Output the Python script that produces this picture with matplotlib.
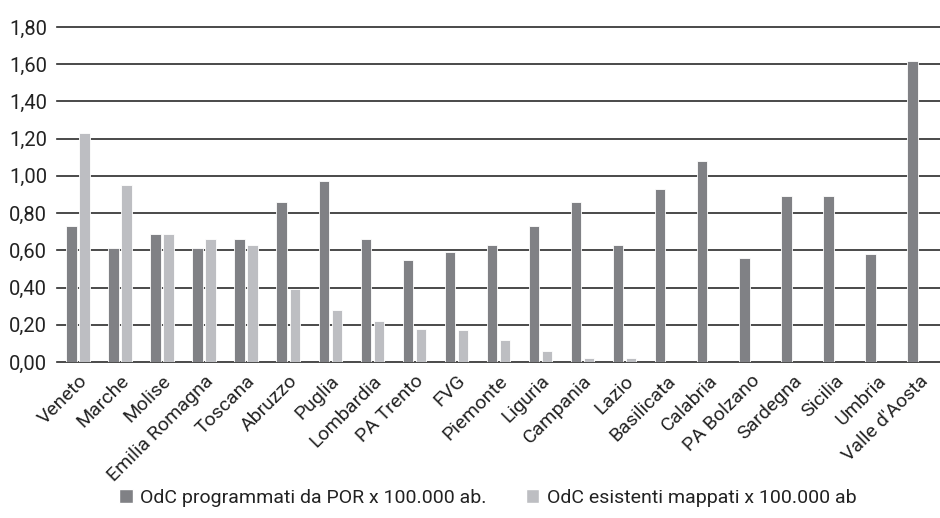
import numpy as np
import matplotlib
matplotlib.use('Agg')
import matplotlib.pyplot as plt
from matplotlib.ticker import FuncFormatter
import matplotlib.patches as mpatches

plt.rcParams['font.family'] = ['Liberation Sans Narrow', 'Roboto', 'DejaVu Sans']

regioni = ['Veneto', 'Marche', 'Molise', 'Emilia Romagna', 'Toscana', 'Abruzzo',
           'Puglia', 'Lombardia', 'PA Trento', 'FVG', 'Piemonte', 'Liguria',
           'Campania', 'Lazio', 'Basilicata', 'Calabria', 'PA Bolzano',
           'Sardegna', 'Sicilia', 'Umbria', "Valle d'Aosta"]
odc_por = [0.73, 0.61, 0.69, 0.61, 0.66, 0.86, 0.97, 0.66, 0.55, 0.59, 0.63,
           0.73, 0.86, 0.63, 0.93, 1.08, 0.56, 0.89, 0.89, 0.58, 1.62]
odc_mappati = [1.23, 0.95, 0.69, 0.66, 0.63, 0.39, 0.28, 0.22, 0.18, 0.17, 0.12,
               0.06, 0.02, 0.02, 0, 0, 0, 0, 0, 0, 0]

col_scuro = '#808185'
col_chiaro = '#bdbec2'

fig = plt.figure(figsize=(9.4, 5.18), dpi=100)
ax = fig.add_axes([57 / 940, 1 - 362 / 518, 1 - 57 / 940, (362 - 27) / 518])

x = np.arange(len(regioni))
w = 0.25
ax.bar(x - 0.155, odc_por, width=w, color=col_scuro, edgecolor='white', linewidth=0.6, zorder=3)
ax.bar(x + 0.155, odc_mappati, width=w, color=col_chiaro, edgecolor='white', linewidth=0.6, zorder=3)

# griglia orizzontale
ax.set_ylim(0, 1.8)
ax.set_yticks(np.arange(0, 1.81, 0.2))
for v in np.arange(0, 1.81, 0.2):
    ax.axhline(v, color='#2b2b2b', linewidth=1.2, zorder=2, clip_on=False)
ax.yaxis.set_major_formatter(FuncFormatter(lambda v, p: f'{v:.2f}'.replace('.', ',')))
ax.set_xlim(-0.5, len(regioni) - 0.5)

for s in ax.spines.values():
    s.set_visible(False)
ax.tick_params(axis='both', length=0, labelsize=14.5, colors='#222222')
ax.tick_params(axis='y', pad=7)
ax.set_xticks(x)
ax.set_xticklabels(regioni, rotation=45, ha='right', rotation_mode='anchor', fontsize=14)
ax.tick_params(axis='x', pad=7)

# legenda
handles = [
    mpatches.Patch(facecolor=col_scuro, edgecolor='white', label='OdC programmati da POR x 100.000 ab.'),
    mpatches.Patch(facecolor=col_chiaro, edgecolor='white', label='OdC esistenti mappati x 100.000 ab'),
]
fig.legend(handles=handles, loc='center', bbox_to_anchor=(488 / 940, 1 - 498 / 518), ncol=2,
           frameon=False, fontsize=14, handlelength=0.7, handleheight=0.7,
           handletextpad=0.4, columnspacing=2.0, labelcolor='#222222')

plt.savefig('out.png', dpi=100)
plt.close()
